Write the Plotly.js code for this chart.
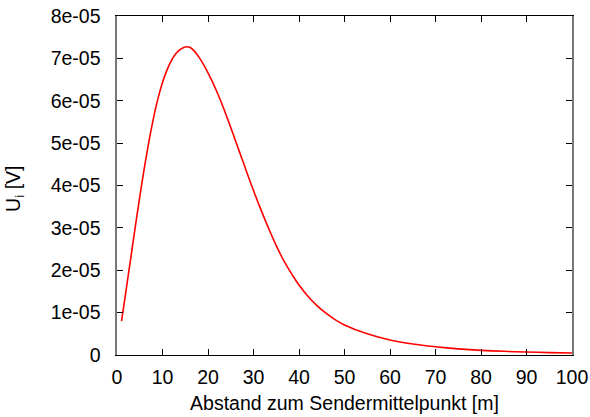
<!DOCTYPE html>
<html>
<head>
<meta charset="utf-8">
<script src="https://cdn.plot.ly/plotly-3.0.1.min.js"></script>
<style>
html,body{margin:0;padding:0;background:#fff;}
#chart{width:590px;height:417px;}
</style>
</head>
<body>
<div id="chart"></div>
<script>
// distance [m]
var distance = [1, 2, 3, 4, 5, 6, 7, 8, 9, 10, 11, 12, 13, 14, 15, 16, 17, 18, 19, 20,
  21, 22, 23, 24, 25, 26, 27, 28, 29, 30, 31, 32, 33, 34, 35, 36, 37, 38, 39, 40,
  42, 44, 46, 48, 50, 55, 60, 65, 70, 75, 80, 85, 90, 95, 100];
// induced voltage U_i [V]
var voltage = [0.80e-5, 1.53e-5, 2.27e-5, 3.01e-5, 3.73e-5, 4.41e-5, 5.03e-5, 5.58e-5, 6.05e-5, 6.43e-5,
  6.73e-5, 6.96e-5, 7.12e-5, 7.22e-5, 7.27e-5, 7.26e-5, 7.17e-5, 7.03e-5, 6.86e-5, 6.66e-5,
  6.44e-5, 6.20e-5, 5.94e-5, 5.66e-5, 5.37e-5, 5.07e-5, 4.77e-5, 4.47e-5, 4.17e-5, 3.88e-5,
  3.60e-5, 3.33e-5, 3.07e-5, 2.82e-5, 2.58e-5, 2.36e-5, 2.16e-5, 1.98e-5, 1.81e-5, 1.65e-5,
  1.38e-5, 1.16e-5, 0.98e-5, 0.83e-5, 0.71e-5, 0.50e-5, 0.355e-5, 0.26e-5, 0.195e-5, 0.145e-5,
  0.11e-5, 0.087e-5, 0.07e-5, 0.057e-5, 0.047e-5];

var xTickVals = [0, 10, 20, 30, 40, 50, 60, 70, 80, 90, 100];
var yTickVals = [0, 1e-5, 2e-5, 3e-5, 4e-5, 5e-5, 6e-5, 7e-5, 8e-5];
var yTickText = ["0", "1e-05", "2e-05", "3e-05", "4e-05", "5e-05", "6e-05", "7e-05", "8e-05"];

var xTitle = "Abstand zum Sendermittelpunkt [m]";
var yTitle = "U<sub>i</sub> [V]";

var fontFam = "Liberation Sans, Arial, sans-serif";
var fs = 19.5;

var trace = {
  x: distance,
  y: voltage,
  type: "scatter",
  mode: "lines",
  line: {color: "#ff0000", width: 1.6, shape: "spline", smoothing: 0.6},
  hoverinfo: "skip"
};

var layout = {
  width: 590,
  height: 417,
  margin: {l: 117, r: 18, t: 16, b: 62},
  paper_bgcolor: "#ffffff",
  plot_bgcolor: "#ffffff",
  showlegend: false,
  font: {family: fontFam, size: fs, color: "#000"},
  xaxis: {
    range: [0, 100],
    tickmode: "array",
    tickvals: xTickVals,
    ticks: "inside",
    ticklen: 6,
    tickcolor: "#000",
    tickwidth: 1,
    showline: true,
    linecolor: "#000",
    linewidth: 1,
    mirror: "ticks",
    showgrid: false,
    zeroline: false,
    ticklabelstandoff: 5,
    tickfont: {family: fontFam, size: fs, color: "#000"},
    title: {text: xTitle, font: {family: fontFam, size: fs, color: "#000"}, standoff: 8}
  },
  yaxis: {
    range: [0, 8e-5],
    tickmode: "array",
    tickvals: yTickVals,
    ticktext: yTickText,
    ticks: "inside",
    ticklen: 6,
    tickcolor: "#000",
    tickwidth: 1,
    showline: true,
    linecolor: "#777",
    linewidth: 1.6,
    mirror: "ticks",
    showgrid: false,
    zeroline: false,
    ticklabelstandoff: 11,
    tickfont: {family: fontFam, size: fs, color: "#000"}
  },
  annotations: [{
    text: yTitle,
    textangle: -90,
    xref: "paper",
    yref: "paper",
    x: 0,
    y: 0.49,
    xanchor: "center",
    yanchor: "middle",
    xshift: -102,
    showarrow: false,
    font: {family: fontFam, size: fs, color: "#000"}
  }]
};

Plotly.newPlot("chart", [trace], layout, {staticPlot: true, displayModeBar: false});
</script>
</body>
</html>
